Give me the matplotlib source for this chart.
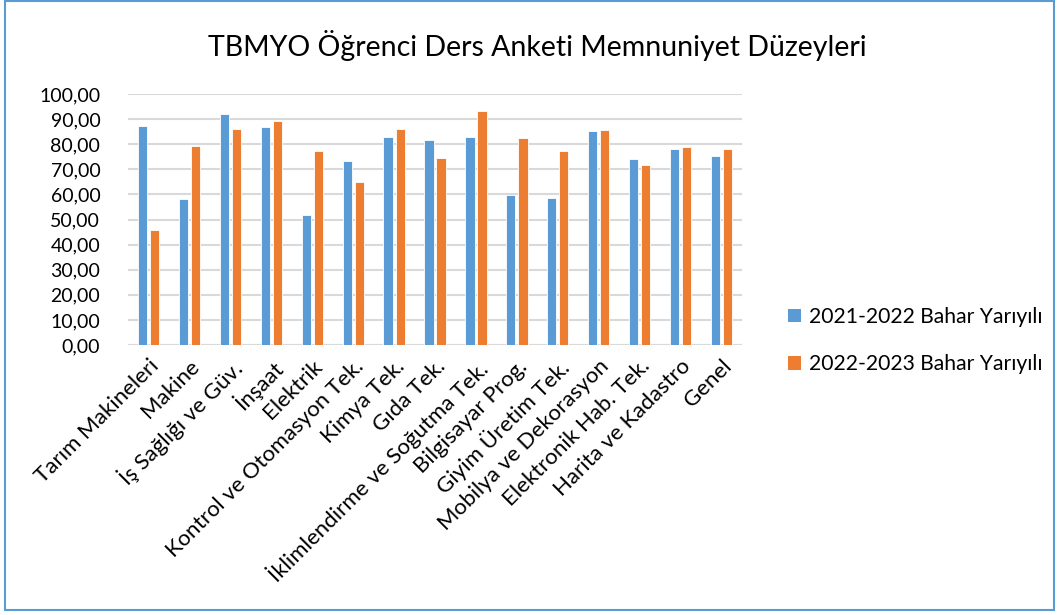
import numpy as np
import matplotlib.pyplot as plt
from matplotlib.patches import Rectangle, Patch

plt.rcParams['font.family'] = ['Lato', 'DejaVu Sans']

# veriler
categories = ['Tarım Makineleri', 'Makine', 'İş Sağlığı ve Güv.', 'İnşaat', 'Elektrik',
              'Kontrol ve Otomasyon Tek.', 'Kimya Tek.', 'Gıda Tek.',
              'İklimlendirme ve Soğutma Tek.', 'Bilgisayar Prog.', 'Giyim Üretim Tek.',
              'Mobilya ve Dekorasyon', 'Elektronik Hab. Tek.', 'Harita ve Kadastro', 'Genel']
donem_2122 = [87.2, 58.1, 92.0, 86.7, 51.8, 73.3, 82.8, 81.6, 82.9, 59.6, 58.7, 85.1, 74.1, 78.1, 75.3]
donem_2223 = [45.8, 79.4, 86.0, 89.4, 77.3, 64.8, 86.0, 74.5, 93.4, 82.5, 77.5, 85.5, 71.7, 79.1, 78.1]
series_names = ['2021-2022 Bahar Yarıyılı', '2022-2023 Bahar Yarıyılı']
colors = ['#5B9BD5', '#ED7D31']

fig = plt.figure(figsize=(10.59, 6.15), dpi=100)
ax = fig.add_axes([0.1209, 0.439, 0.5798, 0.408])

x = np.arange(len(categories))
w = 0.225
ax.bar(x - 0.147, donem_2122, w, color=colors[0], edgecolor='white', linewidth=0.6, zorder=3)
ax.bar(x + 0.147, donem_2223, w, color=colors[1], edgecolor='white', linewidth=0.6, zorder=3)

ax.set_xlim(-0.5, len(categories) - 0.5)
ax.set_ylim(0, 100)
yt = np.arange(0, 101, 10)
ax.set_yticks(yt)
ax.set_yticklabels([f'{v:.2f}'.replace('.', ',') for v in yt], fontsize=14)
ax.yaxis.grid(True, color='#d9d9d9', linewidth=1.5, zorder=0)
ax.tick_params(axis='y', length=0, pad=20)
ax.tick_params(axis='x', length=0, pad=8)
ax.set_xticks(x)
ax.set_xticklabels(categories, rotation=45, ha='right', va='top',
                   rotation_mode='anchor', fontsize=16)
for s in ax.spines.values():
    s.set_visible(False)
ax.axhline(0, color='#d9d9d9', linewidth=1.5, zorder=2)

fig.text(0.507, 0.926, 'TBMYO Öğrenci Ders Anketi Memnuniyet Düzeyleri',
         ha='center', va='center', fontsize=20.5)

handles = [Patch(facecolor=c) for c in colors]
fig.legend(handles, series_names, loc='center left', bbox_to_anchor=(0.726, 0.446),
           frameon=False, fontsize=15.2, handlelength=0.6, handleheight=0.6,
           handletextpad=0.4, labelspacing=1.3)

# grafik çerçevesi
fig.patches.append(Rectangle((0.005, 0.008), 0.99, 0.99, transform=fig.transFigure,
                             fill=False, edgecolor='#5B9BD5', linewidth=1.5))

fig.savefig('out.png', dpi=100)
